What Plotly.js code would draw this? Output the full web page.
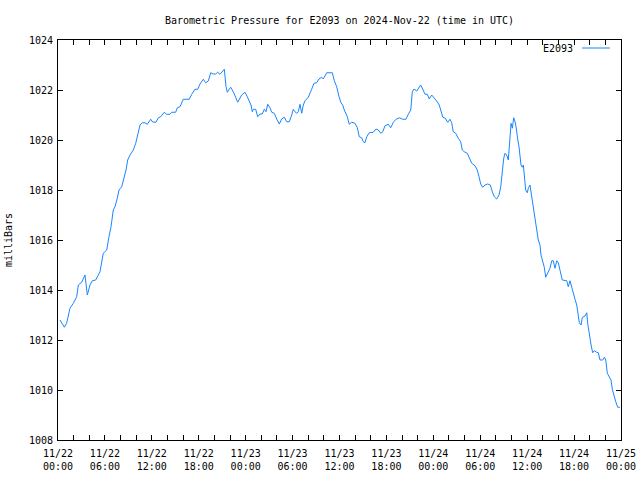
<!DOCTYPE html>
<html>
<head>
<meta charset="utf-8">
<script src="https://cdn.plot.ly/plotly-3.0.1.min.js"></script>
<style>html,body{margin:0;padding:0;background:#fff;}#chart{width:640px;height:480px;}</style>
</head>
<body>
<div id="chart"></div>
<script>
// hours since 2024-11-22 00:00 UTC
const hours = [
0.26,0.81,1.11,1.53,1.96,2.39,2.60,3.03,3.45,3.75,4.09,4.39,4.82,5.37,5.79,6.23,6.52,6.78,7.07,7.29,
7.58,7.80,8.15,8.44,8.70,8.91,9.21,9.63,9.94,10.19,10.49,10.78,11.13,11.42,11.86,12.11,12.53,12.83,13.13,13.59,
13.90,14.32,14.54,15.05,15.26,15.60,16.02,16.79,17.10,17.52,17.87,18.16,18.58,18.89,19.22,19.53,19.86,20.17,20.42,20.72,
21.01,21.27,21.49,21.65,21.91,22.09,22.51,22.98,23.49,23.92,24.21,24.56,24.68,24.85,24.98,25.28,25.54,25.83,26.13,26.38,
26.60,26.82,27.11,27.33,27.66,27.97,28.30,28.61,28.94,29.25,29.58,29.89,30.09,30.31,30.53,30.73,30.95,31.17,31.37,31.59,
32.01,32.44,32.74,33.08,33.38,33.72,33.93,34.36,35.08,35.34,35.64,35.94,36.19,36.41,36.61,37.00,37.25,37.56,37.98,38.28,
38.53,38.84,39.04,39.26,39.48,39.81,40.32,40.67,40.96,41.27,41.53,41.82,42.24,42.55,42.88,43.23,43.65,44.08,44.50,44.80,
45.11,45.31,45.53,45.87,46.17,46.38,46.64,46.93,47.23,47.48,47.79,48.12,48.43,48.76,49.01,49.21,49.52,49.84,50.13,50.35,
50.55,50.86,51.19,51.50,51.70,51.96,52.34,52.60,52.91,53.33,53.62,53.84,54.06,54.31,54.61,54.95,55.29,55.54,55.80,56.10,
56.40,56.62,56.82,57.00,57.17,57.38,57.59,57.72,57.81,57.94,58.10,58.28,58.45,58.58,58.79,58.96,59.21,59.38,59.51,59.63,
59.81,60.02,60.15,60.36,60.49,60.66,60.78,61.00,61.22,61.42,61.64,61.77,61.94,62.19,62.37,62.62,62.92,63.14,63.34,63.56,
63.78,63.98,64.20,64.49,65.06,65.26,65.48,65.70,65.90,66.12,66.34,66.54,66.67,66.89,67.06,67.40,67.62,67.74,67.95,68.17,
68.38,68.59,68.90,69.10,69.32,69.66,69.87,70.05,70.25,70.47,70.72,70.89,71.15,71.33,71.58,71.87
];
// pressure in milliBars
const pressure = [
1012.80,1012.51,1012.67,1013.27,1013.47,1013.73,1014.20,1014.31,1014.60,1013.80,1014.20,1014.37,1014.40,1014.73,1015.47,1015.60,1016.13,1016.53,1017.20,1017.33,
1017.67,1018.00,1018.13,1018.47,1018.80,1019.20,1019.40,1019.60,1019.87,1020.20,1020.60,1020.69,1020.69,1020.63,1020.83,1020.72,1020.71,1020.89,1020.93,1021.11,
1021.03,1021.03,1021.11,1021.11,1021.29,1021.33,1021.63,1021.63,1021.83,1022.03,1022.03,1022.24,1022.43,1022.29,1022.36,1022.69,1022.64,1022.64,1022.71,1022.63,
1022.73,1022.83,1022.13,1021.91,1022.04,1022.11,1021.87,1021.51,1021.80,1021.91,1021.73,1021.51,1021.40,1021.13,1021.23,1021.23,1020.93,1021.04,1021.04,1021.23,
1021.13,1021.43,1021.29,1021.11,1021.07,1020.84,1020.64,1020.84,1020.91,1020.73,1020.73,1021.00,1021.23,1021.13,1021.07,1021.13,1021.43,1021.07,1021.40,1021.57,
1021.71,1022.03,1022.27,1022.29,1022.44,1022.51,1022.44,1022.69,1022.69,1022.37,1022.13,1021.73,1021.49,1021.40,1021.20,1020.93,1020.63,1020.71,1020.67,1020.49,
1020.13,1020.09,1019.93,1019.89,1020.13,1020.29,1020.31,1020.44,1020.40,1020.27,1020.33,1020.57,1020.63,1020.49,1020.71,1020.83,1020.89,1020.83,1020.83,1021.03,
1021.20,1021.93,1022.04,1021.96,1022.09,1022.20,1022.04,1021.83,1021.83,1021.64,1021.80,1021.69,1021.56,1021.40,1021.07,1020.91,1020.87,1020.71,1020.83,1020.69,
1020.33,1020.27,1020.07,1019.93,1019.60,1019.53,1019.47,1019.31,1019.07,1018.97,1018.80,1018.53,1018.24,1018.11,1018.20,1018.24,1018.20,1017.93,1017.73,1017.64,
1017.80,1018.13,1018.73,1019.27,1019.47,1019.40,1019.20,1019.67,1020.27,1020.67,1020.47,1020.89,1020.73,1020.53,1020.03,1019.73,1019.00,1018.91,1019.00,1018.53,
1018.00,1017.89,1018.07,1018.20,1017.93,1017.60,1017.27,1016.80,1016.29,1016.00,1015.80,1015.40,1015.20,1014.91,1014.51,1014.69,1014.87,1015.17,1015.17,1014.87,
1015.17,1015.09,1014.73,1014.40,1014.37,1014.13,1014.37,1014.11,1013.80,1013.63,1013.40,1013.00,1012.69,1012.60,1012.91,1012.96,1013.09,1012.67,1012.13,1011.80,
1011.49,1011.57,1011.51,1011.49,1011.20,1011.20,1011.31,1011.20,1010.67,1010.51,1010.40,1010.03,1009.71,1009.53,1009.31,1009.31
];
const seriesName = "E2093";
const startMs = Date.UTC(2024, 10, 22, 0, 0, 0);
const times = hours.map(h => new Date(startMs + h * 3600000).toISOString().slice(0, 19).replace('T', ' '));

const FONT = "DejaVu Sans Mono, monospace";
const LINE = "#1a85ff";

const trace = {
  x: times, y: pressure, type: 'scatter', mode: 'lines', name: seriesName,
  line: {color: LINE, width: 1}, hoverinfo: 'skip'
};

const layout = {
  width: 640, height: 480,
  margin: {l: 58, r: 19, t: 40, b: 40, pad: 0},
  paper_bgcolor: '#fff', plot_bgcolor: '#fff',
  showlegend: false,
  font: {family: FONT, size: 10, color: '#000'},
  title: {text: 'Barometric Pressure for E2093 on 2024-Nov-22 (time in UTC)',
          font: {family: FONT, size: 10, color: '#000'},
          x: 0.5, xref: 'paper', y: 1 - 20/480, yref: 'container', yanchor: 'middle'},
  xaxis: {
    type: 'date', range: ['2024-11-22 00:00', '2024-11-25 00:00'],
    tick0: '2024-11-22 00:00', dtick: 6 * 3600000,
    tickformat: '%m/%d<br>%H:%M',
    ticks: 'inside', ticklen: 5, tickcolor: '#000', tickwidth: 1,
    ticklabelstandoff: 4,
    minor: {dtick: 2 * 3600000, ticks: 'inside', ticklen: 5, tickcolor: '#000', tickwidth: 1, showgrid: false},
    showline: true, linecolor: '#000', linewidth: 1, mirror: 'ticks',
    showgrid: false, zeroline: false, fixedrange: true,
    tickfont: {family: FONT, size: 10, color: '#000'}
  },
  yaxis: {
    range: [1008, 1024], tick0: 1008, dtick: 2,
    ticks: 'inside', ticklen: 5, tickcolor: '#000', tickwidth: 1,
    ticklabelstandoff: 2,
    showline: true, linecolor: '#000', linewidth: 1, mirror: 'ticks',
    showgrid: false, zeroline: false, fixedrange: true,
    tickfont: {family: FONT, size: 10, color: '#000'},
    title: {text: 'milliBars', font: {family: FONT, size: 10, color: '#000'}, standoff: 14}
  },
  annotations: [{
    text: seriesName, xref: 'paper', yref: 'paper', x: 0.918, y: 0.98,
    xanchor: 'right', yanchor: 'middle', showarrow: false,
    font: {family: FONT, size: 10, color: '#000'}
  }],
  shapes: [{
    type: 'line', xref: 'paper', yref: 'paper', x0: 0.9307, x1: 0.9805, y0: 0.98, y1: 0.98,
    line: {color: LINE, width: 1}
  }]
};

Plotly.newPlot('chart', [trace], layout, {staticPlot: true, displayModeBar: false});
</script>
</body>
</html>
